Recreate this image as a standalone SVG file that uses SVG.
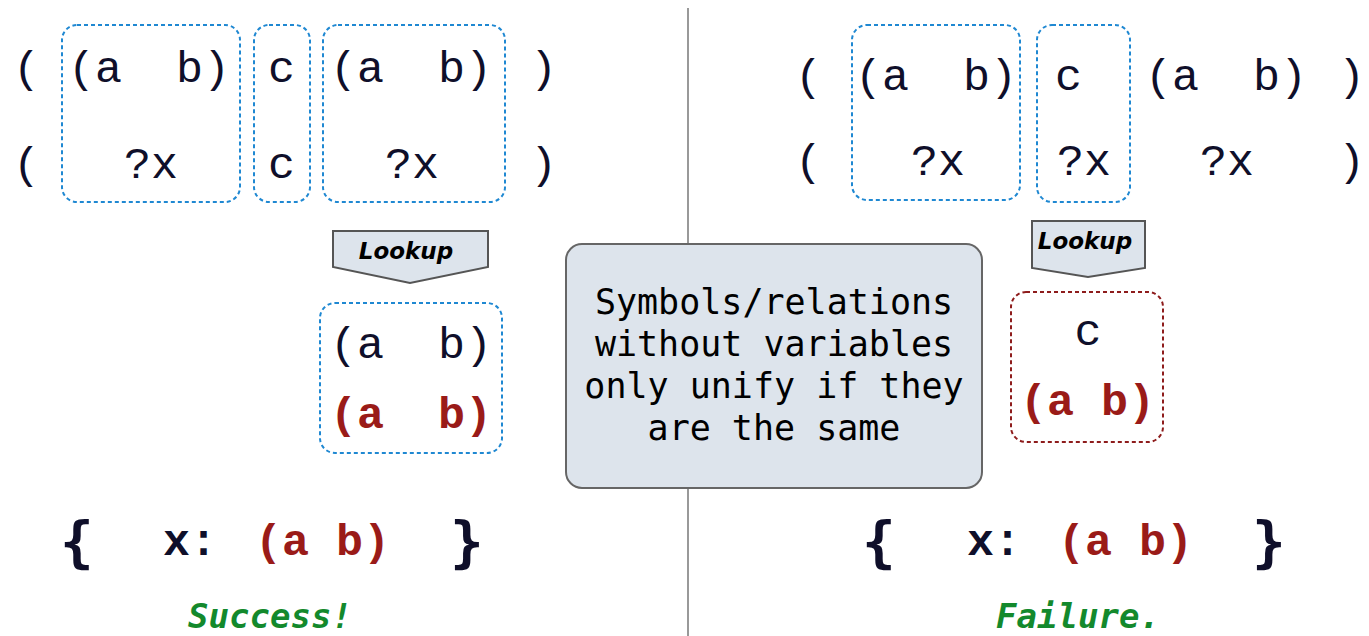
<svg xmlns="http://www.w3.org/2000/svg" width="1369" height="636" viewBox="0 0 1369 636">
<style>
.m{font-family:"Liberation Mono","Courier New",monospace;font-size:45px;fill:#0f0f2a}
.r{font-family:"Liberation Mono","Courier New",monospace;font-size:45px;font-weight:bold;fill:#9a1b18}
.xb{font-family:"Liberation Mono","Courier New",monospace;font-size:45px;font-weight:bold;fill:#0f0f2a}
.br{font-family:"DejaVu Sans Mono",monospace;font-size:56px;font-weight:bold;fill:#0f0f2a}
.bb{fill:none;stroke:#1f88d2;stroke-width:2;stroke-dasharray:4 3}
.rb{fill:none;stroke:#8e1c1c;stroke-width:2;stroke-dasharray:4 3}
.lk{fill:#dde4ec;stroke:#555;stroke-width:2}
.lt{font-family:"DejaVu Sans",sans-serif;font-size:23px;font-weight:bold;font-style:italic;fill:#000}
.ct{font-family:"DejaVu Sans Mono",monospace;font-size:35px;fill:#000}
.g{font-family:"DejaVu Sans Mono",monospace;font-size:34px;font-weight:bold;font-style:italic;fill:#13892c}
</style>
<line x1="688" y1="8" x2="688" y2="636" stroke="#999" stroke-width="2"/>
<g id="left-expr">
<text class="m" x="13" y="82">(</text>
<text class="m" x="68" y="82" xml:space="preserve">(a  b)</text>
<text class="m" x="268" y="82">c</text>
<text class="m" x="330" y="82" xml:space="preserve">(a  b)</text>
<text class="m" x="530" y="82">)</text>
<text class="m" x="13" y="178">(</text>
<text class="m" x="124" y="178">?x</text>
<text class="m" x="268" y="178">c</text>
<text class="m" x="385" y="178">?x</text>
<text class="m" x="530" y="178">)</text>
</g>
<g id="left-box1"><rect class="bb" x="62" y="25" width="178" height="177" rx="15"/></g>
<g id="left-box2"><rect class="bb" x="254" y="25" width="56" height="177" rx="15"/></g>
<g id="left-box3"><rect class="bb" x="323" y="25" width="182" height="177" rx="15"/></g>
<g id="left-lookup">
<path class="lk" d="M333,231 H488 V267 L410,283 L333,267 Z"/>
<text class="lt" x="406" y="259" text-anchor="middle">Lookup</text>
</g>
<g id="left-result">
<rect class="bb" x="320" y="303" width="182" height="150" rx="15"/>
<text class="m" x="330" y="358" xml:space="preserve">(a  b)</text>
<text class="r" x="330" y="428" xml:space="preserve">(a  b)</text>
</g>
<g id="left-binding">
<text class="br" x="60" y="561">{</text>
<text class="xb" x="163" y="555">x:</text>
<text class="r" x="255" y="555">(a b)</text>
<text class="br" x="450" y="561">}</text>
</g>
<text class="g" x="270" y="628" text-anchor="middle">Success!</text>
<g id="right-expr">
<text class="m" x="795" y="90">(</text>
<text class="m" x="855" y="90" xml:space="preserve">(a  b)</text>
<text class="m" x="1055" y="90">c</text>
<text class="m" x="1145" y="90" xml:space="preserve">(a  b)</text>
<text class="m" x="1338" y="90">)</text>
<text class="m" x="795" y="175">(</text>
<text class="m" x="911" y="175">?x</text>
<text class="m" x="1057" y="175">?x</text>
<text class="m" x="1200" y="175">?x</text>
<text class="m" x="1338" y="175">)</text>
</g>
<g id="right-box1"><rect class="bb" x="852" y="25" width="168" height="175" rx="15"/></g>
<g id="right-box2"><rect class="bb" x="1037" y="25" width="93" height="177" rx="15"/></g>
<g id="right-lookup">
<path class="lk" d="M1032,221 H1145 V268 L1088,277 L1032,268 Z"/>
<text class="lt" x="1085" y="249" text-anchor="middle">Lookup</text>
</g>
<g id="right-result">
<rect class="rb" x="1011" y="292" width="152" height="150" rx="15"/>
<text class="m" x="1088" y="345" text-anchor="middle">c</text>
<text class="r" x="1020" y="415">(a b)</text>
</g>
<g id="right-binding">
<text class="br" x="862" y="561">{</text>
<text class="xb" x="967" y="555">x:</text>
<text class="r" x="1058" y="555">(a b)</text>
<text class="br" x="1252" y="561">}</text>
</g>
<text class="g" x="1078" y="628" text-anchor="middle">Failure.</text>
<g id="note">
<rect x="566" y="244" width="416" height="244" rx="16" fill="#dde4ec" stroke="#666" stroke-width="2"/>
<text class="ct" x="774" y="314" text-anchor="middle">Symbols/relations</text>
<text class="ct" x="774" y="356" text-anchor="middle">without variables</text>
<text class="ct" x="774" y="398" text-anchor="middle">only unify if they</text>
<text class="ct" x="774" y="440" text-anchor="middle">are the same</text>
</g>
</svg>
